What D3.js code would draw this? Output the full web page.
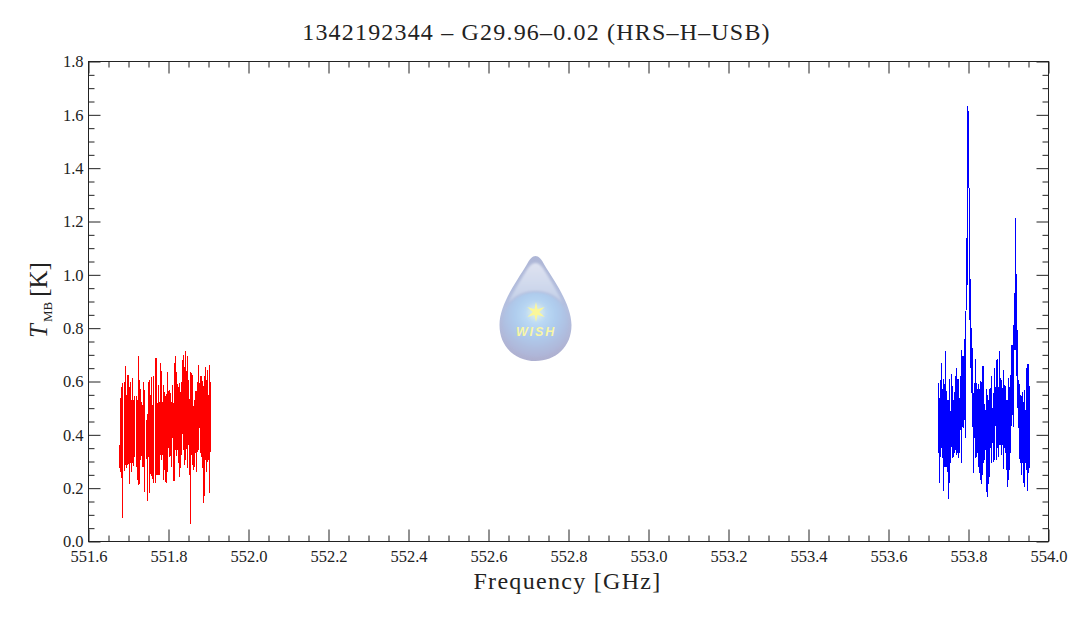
<!DOCTYPE html>
<html><head><meta charset="utf-8">
<script src="https://cdn.jsdelivr.net/npm/d3@7"></script>
<style>html,body{margin:0;padding:0;background:#fff}svg{display:block}text{font-family:"Liberation Serif",serif;fill:#222}</style>
</head><body><svg id="c" width="1072" height="618"></svg>
<script>
const titleText = "1342192344 – G29.96–0.02 (HRS–H–USB)";
const xLabel = "Frequency [GHz]";
const xMajor = [551.6,551.8,552.0,552.2,552.4,552.6,552.8,553.0,553.2,553.4,553.6,553.8,554.0];
const yMajor = [0,0.2,0.4,0.6,0.8,1.0,1.2,1.4,1.6,1.8];
const redFreq = [551.6767,551.6792,551.6817,551.6842,551.6858,551.6892,551.6925,551.695,551.6983,551.7008,551.7033,551.7058,551.7083,551.7108,551.7133,551.7158,551.7192,551.7217,551.7242,551.7275,551.73,551.7333,551.7358,551.7383,551.7408,551.7442,551.7467,551.75,551.7525,551.755,551.7575,551.7608,551.7633,551.7675,551.77,551.7725,551.7758,551.7783,551.7808,551.7833,551.7858,551.7883,551.7908,551.7933,551.7958,551.7983,551.8008,551.8033,551.8058,551.8083,551.8108,551.8133,551.8158,551.8183,551.8208,551.8233,551.8258,551.8283,551.8308,551.8333,551.8358,551.8383,551.8408,551.8433,551.8458,551.8483,551.8508,551.8533,551.8558,551.8583,551.8608,551.8633,551.8658,551.8683,551.8708,551.8733,551.8758,551.8783,551.8808,551.8833,551.8858,551.8883,551.8908,551.8933,551.8958,551.8983,551.9008,551.9033,551.9058];
const redHigh = [.362,.537,.581,.500,.594,.600,.659,.550,.625,.625,.581,.600,.531,.612,.531,.546,.546,.531,.694,.606,.571,.525,.512,.600,.569,.456,.479,.600,.606,.550,.616,.512,.619,.688,.688,.519,.588,.525,.669,.640,.525,.588,.562,.544,.554,.635,.566,.569,.556,.525,.588,.519,.671,.696,.635,.590,.581,.596,.562,.600,.681,.700,.654,.713,.641,.694,.606,.534,.634,.631,.625,.509,.529,.566,.566,.600,.663,.594,.622,.619,.603,.584,.621,.654,.606,.644,.550,.663,.600];
const redLow = [.277,.262,.237,.262,.087,.266,.287,.277,.287,.291,.215,.294,.262,.296,.284,.316,.281,.231,.212,.216,.306,.321,.279,.279,.187,.311,.153,.316,.183,.254,.244,.234,.221,.218,.250,.250,.250,.250,.325,.306,.325,.231,.269,.225,.218,.262,.350,.316,.319,.281,.387,.228,.228,.344,.319,.344,.296,.241,.275,.325,.404,.344,.287,.306,.346,.275,.362,.250,.065,.325,.287,.269,.281,.331,.259,.337,.344,.425,.331,.316,.275,.143,.171,.306,.262,.300,.304,.183,.337];
const blueFreq = [553.7258,553.7283,553.7308,553.7333,553.7358,553.7383,553.7408,553.7433,553.7458,553.7483,553.7508,553.7533,553.7558,553.7583,553.7608,553.7633,553.7658,553.7683,553.7708,553.7733,553.7758,553.7783,553.7808,553.7833,553.7858,553.7883,553.7908,553.7933,553.7958,553.7983,553.8008,553.8033,553.8058,553.8083,553.81,553.8117,553.8142,553.8167,553.8192,553.8217,553.8242,553.8267,553.8292,553.8317,553.8342,553.8367,553.8392,553.8417,553.8442,553.8467,553.8492,553.8517,553.8542,553.8567,553.8592,553.8617,553.8642,553.8667,553.8692,553.8717,553.8742,553.8767,553.8792,553.8817,553.8842,553.8867,553.8892,553.8917,553.8942,553.8967,553.8992,553.9017,553.9042,553.9067,553.9092,553.9117,553.9142,553.9167,553.9183,553.9208,553.9233,553.9258,553.9283,553.9308,553.9333,553.9358,553.9383,553.9408,553.9433,553.9458,553.9483,553.9508,553.9533];
const blueHigh = [.594,.537,.606,.669,.571,.609,.591,.715,.566,.531,.531,.609,.490,.629,.584,.531,.562,.621,.650,.609,.609,.537,.621,.719,.696,.696,.759,.863,1.139,1.632,1.613,1.327,.985,.80,.725,.556,.594,.684,.594,.571,.591,.571,.603,.598,.659,.659,.516,.494,.571,.550,.531,.571,.575,.619,.500,.556,.650,.581,.681,.684,.581,.713,.613,.606,.575,.644,.587,.584,.531,.531,.613,.579,.625,.738,.738,.813,.933,1.083,1.214,1.004,.794,.606,.591,.550,.544,.562,.525,.569,.494,.650,.666,.666,.584];
const blueLow = [.331,.221,.318,.350,.312,.191,.281,.281,.281,.262,.161,.218,.293,.356,.315,.318,.331,.344,.325,.333,.312,.333,.419,.296,.431,.425,.456,.387,.87,.963,1.327,.831,.650,.556,.431,.256,.387,.312,.318,.331,.281,.256,.231,.216,.250,.294,.306,.344,.187,.168,.216,.243,.350,.294,.369,.300,.306,.434,.306,.350,.318,.362,.362,.325,.362,.271,.350,.331,.268,.206,.231,.268,.331,.434,.475,.431,.719,.719,.738,.621,.500,.425,.309,.296,.250,.294,.218,.203,.294,.268,.191,.258,.275];

if (redFreq.length!==redHigh.length||redFreq.length!==redLow.length) throw new Error("red lengths");
if (blueFreq.length!==blueHigh.length||blueFreq.length!==blueLow.length) throw new Error("blue lengths");

const L=88.5,R=1048.5,T=61.5,B=541.5;
const x=d3.scaleLinear().domain([551.6,554.0]).range([L,R]);
const y=d3.scaleLinear().domain([0,1.8]).range([B,T]);
const svg=d3.select("#c");
const ink="#222";

// logo
const defs=svg.append("defs");
const g1=defs.append("linearGradient").attr("id","dropG").attr("x1",0).attr("x2",0).attr("y1",0).attr("y2",1);
g1.append("stop").attr("offset","0").attr("stop-color","#aeb6d6");
g1.append("stop").attr("offset","0.5").attr("stop-color","#b4c0e0");
g1.append("stop").attr("offset","1").attr("stop-color","#aeb0d0");
const g2=defs.append("radialGradient").attr("id","ballG").attr("cx","0.5").attr("cy","0.35").attr("r","0.62");
g2.append("stop").attr("offset","0").attr("stop-color","#c6e4fa");
g2.append("stop").attr("offset","0.5").attr("stop-color","#afcdee");
g2.append("stop").attr("offset","1").attr("stop-color","#afb6d8");
const g3=defs.append("linearGradient").attr("id","hiG").attr("x1",0).attr("x2",0).attr("y1",0).attr("y2",1);
g3.append("stop").attr("offset","0").attr("stop-color","#dfe3f1");
g3.append("stop").attr("offset","1").attr("stop-color","#c3d0e8");
const f=defs.append("filter").attr("id","soft").attr("x","-50%").attr("y","-50%").attr("width","200%").attr("height","200%");
f.append("feGaussianBlur").attr("stdDeviation","2");
const f2=defs.append("filter").attr("id","soft2").attr("x","-10%").attr("y","-10%").attr("width","120%").attr("height","120%");
f2.append("feGaussianBlur").attr("stdDeviation","1");
const logo=svg.append("g").attr("transform","translate(535.5,256)");
logo.append("path").attr("fill","url(#dropG)")
 .attr("d","M0,0 C3,0 6,3 9,9 C18,24 36,48 36,69 C36,91 20,105 0,105 C-20,105 -36,91 -36,69 C-36,48 -18,24 -9,9 C-6,3 -3,0 0,0 Z");
logo.append("path").attr("fill","url(#ballG)").attr("filter","url(#soft2)")
 .attr("d","M0,36 C19,36 33,50 33,68 C33,88 18,101 0,101 C-18,101 -33,88 -33,68 C-33,50 -19,36 0,36 Z");
logo.append("path").attr("fill","url(#hiG)").attr("filter","url(#soft2)")
 .attr("d","M0,7 C4,7 7,11 10,16 C16,26 23,37 27,47 C20,39 11,35 0,35 C-11,35 -20,39 -27,47 C-23,37 -16,26 -10,16 C-7,11 -4,7 0,7 Z");
const star=logo.append("g").attr("transform","translate(0.5,56)");
star.append("circle").attr("r",8).attr("fill","#f6f8d0").attr("opacity",0.4).attr("filter","url(#soft)");
[0,60,120].forEach(a=>star.append("path").attr("transform",`rotate(${a})`).attr("fill","#fbf79a").attr("d","M0,-10 L2.2,0 L0,10 L-2.2,0 Z"));
logo.append("text").attr("x",0.5).attr("y",80).attr("text-anchor","middle")
 .style("font-family","'Liberation Sans',sans-serif").style("font-weight","bold").style("font-style","italic")
 .style("font-size","12.5px").style("letter-spacing","1.9px").style("fill","#f8f6a6").text("WISH");

// spectra
function spectrum(freq,high,low,color){
  svg.append("g").attr("shape-rendering","crispEdges").selectAll("line").data(freq).join("line")
    .attr("x1",d=>x(d)).attr("x2",d=>x(d))
    .attr("y1",(d,i)=>y(low[i])).attr("y2",(d,i)=>y(high[i]))
    .attr("stroke",color).attr("stroke-width",1);
}
spectrum(redFreq,redHigh,redLow,"#ff0000");
spectrum(blueFreq,blueHigh,blueLow,"#0000ff");

// axes
const xMinor=d3.range(0,49).map(i=>551.6+i*0.05).filter((d,i)=>i%4!==0);
const yMinor=d3.range(0,37).map(i=>i*0.05).filter((d,i)=>i%4!==0);
function axisG(gen,tx,ty){
  const g=svg.append("g").attr("transform",`translate(${tx},${ty})`).call(gen);
  g.selectAll("path").remove();
  g.selectAll("line").attr("stroke",ink).attr("stroke-width",1);
  return g;
}
const noFmt=()=>"";
axisG(d3.axisBottom(x).tickValues(xMinor).tickSize(-6).tickFormat(noFmt),0,B);
axisG(d3.axisTop(x).tickValues(xMinor).tickSize(-6).tickFormat(noFmt),0,T);
axisG(d3.axisLeft(y).tickValues(yMinor).tickSize(-6).tickFormat(noFmt),L,0);
axisG(d3.axisRight(y).tickValues(yMinor).tickSize(-6).tickFormat(noFmt),R,0);
axisG(d3.axisTop(x).tickValues(xMajor).tickSize(-12).tickFormat(noFmt),0,T);
axisG(d3.axisRight(y).tickValues(yMajor).tickSize(-12).tickFormat(noFmt),R,0);
const ax=axisG(d3.axisBottom(x).tickValues(xMajor).tickSize(-12).tickPadding(0).tickFormat(d3.format(".1f")),0,B);
ax.selectAll("text").attr("y",20).attr("dy",null).style("font-size","16.5px").style("font-family","'Liberation Serif',serif").style("fill",ink);
const ay=axisG(d3.axisLeft(y).tickValues(yMajor).tickSize(-12).tickFormat(d3.format(".1f")),L,0);
ay.selectAll("text").attr("x",-5).attr("dy","0.32em").style("font-size","16.5px").style("font-family","'Liberation Serif',serif").style("fill",ink);
svg.append("rect").attr("x",L).attr("y",T).attr("width",R-L).attr("height",B-T).attr("fill","none").attr("stroke",ink).attr("stroke-width",1);

// titles
svg.append("text").attr("x",536.5).attr("y",40).attr("text-anchor","middle").style("font-size","24px").style("letter-spacing","1.18px").text(titleText);
svg.append("text").attr("x",567.5).attr("y",589).attr("text-anchor","middle").style("font-size","24px").style("letter-spacing","1.3px").text(xLabel);
const yl=svg.append("text").attr("transform","translate(47,300) rotate(-90)").attr("text-anchor","middle").style("font-size","25px");
yl.append("tspan").style("font-style","italic").text("T");
yl.append("tspan").attr("dy",5).attr("dx",2).style("font-size","13px").text("MB");
yl.append("tspan").attr("dy",-5).attr("dx",5).text("[K]");
</script></body></html>
